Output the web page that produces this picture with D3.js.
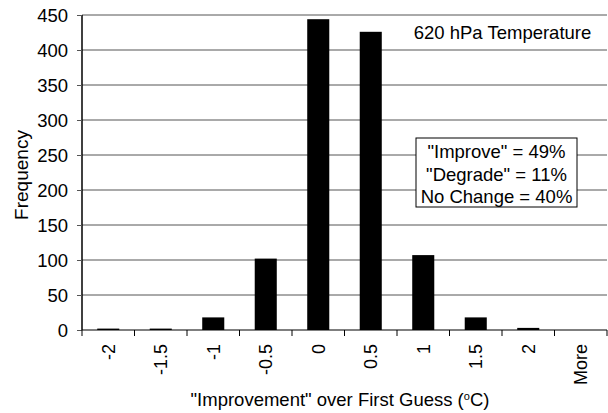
<!DOCTYPE html>
<html lang="en">
<head>
<meta charset="utf-8">
<style type="text/css">
    body { margin: 0; background: #fff; }
    text { font-family: "Liberation Sans", Arial, sans-serif; fill: #000; }
    .grid line { stroke: #555; stroke-width: 1; }
</style>
</head>
<body>
<svg width="608" height="413"></svg>
<script src="https://cdn.jsdelivr.net/npm/d3@7"></script>
<script type="text/javascript">
    var categories = ["-2", "-1.5", "-1", "-0.5", "0", "0.5", "1", "1.5", "2", "More"];
    var frequency = [2, 2, 18, 102, 444, 426, 107, 18, 3, 0];
    var yTicks = [0, 50, 100, 150, 200, 250, 300, 350, 400, 450];
    var statLines = ['"Improve" = 49%', '"Degrade" = 11%', 'No Change = 40%'];

    var svg = d3.select("svg"),
        margin = {left: 82, right: 1, top: 15, bottom: 83},
        width = 608 - margin.left - margin.right,
        height = 413 - margin.top - margin.bottom;

    var g = svg.append("g").attr("transform", "translate(" + margin.left + "," + margin.top + ")");

    var x = d3.scaleBand().domain(categories).range([0, width]).paddingInner(0.58).paddingOuter(0.29);
    var y = d3.scaleLinear().domain([0, 450]).range([height, 0]);

    // gridlines
    g.append("g").attr("class", "grid")
        .selectAll("line").data(yTicks.slice(1)).enter().append("line")
        .attr("x1", 0).attr("x2", width)
        .attr("y1", function (d) { return y(d); }).attr("y2", function (d) { return y(d); });

    // bars
    g.selectAll(".bar").data(frequency).enter().append("rect")
        .attr("class", "bar")
        .attr("x", function (d, i) { return x(categories[i]); })
        .attr("width", x.bandwidth())
        .attr("y", function (d) { return y(d); })
        .attr("height", function (d) { return height - y(d); })
        .attr("fill", "#000");

    // y axis
    var yAxis = g.append("g")
        .call(d3.axisLeft(y).tickValues(yTicks).tickSize(5).tickPadding(9));
    yAxis.select(".domain").attr("stroke", "#000").attr("stroke-width", 1.5).attr("d", "M0," + height + "V0");
    yAxis.selectAll("text").style("font-size", "18.5px").attr("font-family", null).attr("dy", "0.35em");
    yAxis.selectAll(".tick line").attr("stroke", "#555");

    // x axis: ticks at band boundaries
    var xAxis = g.append("g").attr("transform", "translate(0," + height + ")");
    xAxis.append("line").attr("x1", 0).attr("x2", width).attr("stroke", "#000").attr("stroke-width", 1.2);
    var step = x.step();
    xAxis.selectAll(".xtick").data(d3.range(categories.length + 1)).enter().append("line")
        .attr("x1", function (d) { return d * step; }).attr("x2", function (d) { return d * step; })
        .attr("y1", 0).attr("y2", 6).attr("stroke", "#000");
    xAxis.selectAll(".xlabel").data(categories).enter().append("text")
        .attr("transform", function (d) {
            return "translate(" + (x(d) + x.bandwidth() / 2 + 6.5) + ",14) rotate(-90)";
        })
        .attr("text-anchor", "end")
        .style("font-size", "18px")
        .text(function (d) { return d; });

    // axis titles
    svg.append("text")
        .attr("transform", "translate(28,175) rotate(-90)")
        .attr("text-anchor", "middle")
        .style("font-size", "19px")
        .text("Frequency");

    var xt = svg.append("text")
        .attr("x", 340).attr("y", 406)
        .attr("text-anchor", "middle")
        .style("font-size", "18.5px");
    xt.append("tspan").text('"Improvement" over First Guess (');
    xt.append("tspan").attr("dy", -6).style("font-size", "11px").text("o");
    xt.append("tspan").attr("dy", 6).text("C)");

    // title
    svg.append("text")
        .attr("x", 502.5).attr("y", 39)
        .attr("text-anchor", "middle")
        .style("font-size", "18.5px")
        .text("620 hPa Temperature");

    // stats box
    svg.append("rect")
        .attr("x", 416).attr("y", 138).attr("width", 161).attr("height", 69)
        .attr("fill", "#fff").attr("stroke", "#000").attr("stroke-width", 1);
    svg.selectAll(".stat").data(statLines).enter().append("text")
        .attr("class", "stat")
        .attr("x", 496.5)
        .attr("y", function (d, i) { return 158 + i * 22.5; })
        .attr("text-anchor", "middle")
        .style("font-size", "18.5px")
        .text(function (d) { return d; });
</script>
</body>
</html>
